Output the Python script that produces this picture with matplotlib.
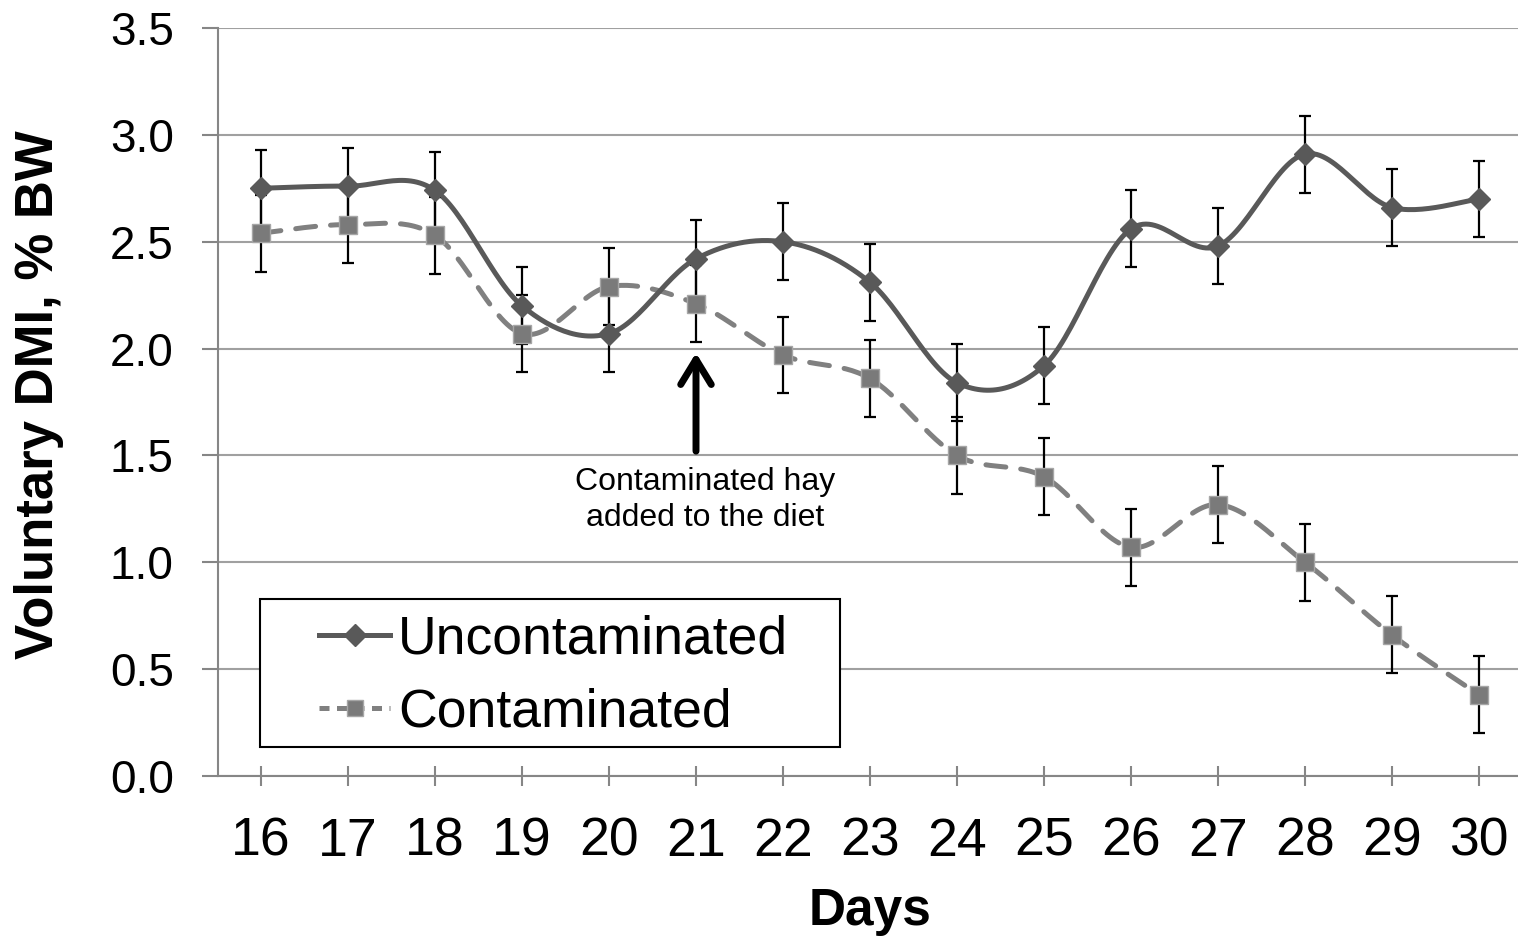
import matplotlib.pyplot as plt
from matplotlib.patches import Rectangle
import numpy as np

plt.rcParams['font.family'] = ['Liberation Sans', 'DejaVu Sans']

days = ['16', '17', '18', '19', '20', '21', '22', '23', '24', '25', '26', '27', '28', '29', '30']
uncontaminated = [2.75, 2.76, 2.74, 2.20, 2.07, 2.42, 2.50, 2.31, 1.84, 1.92, 2.56, 2.48, 2.91, 2.66, 2.70]
contaminated = [2.54, 2.58, 2.53, 2.07, 2.29, 2.21, 1.97, 1.86, 1.50, 1.40, 1.07, 1.27, 1.00, 0.66, 0.38]
unc_err = [0.18, 0.18, 0.18, 0.18, 0.18, 0.18, 0.18, 0.18, 0.18, 0.18, 0.18, 0.18, 0.18, 0.18, 0.18]
con_err = [0.18, 0.18, 0.18, 0.18, 0.18, 0.18, 0.18, 0.18, 0.18, 0.18, 0.18, 0.18, 0.18, 0.18, 0.18]


def smooth(x, y, n=30):
    # bezier curve through the points, like excel's smoothed line
    x = np.asarray(x, float)
    y = np.asarray(y, float)
    px = np.concatenate([[x[0]], x, [x[-1]]])
    py = np.concatenate([[y[0]], y, [y[-1]]])
    xs, ys = [], []
    t = np.linspace(0, 1, n)
    for i in range(1, len(px) - 2):
        p0x, p1x, p2x, p3x = px[i-1], px[i], px[i+1], px[i+2]
        p0y, p1y, p2y, p3y = py[i-1], py[i], py[i+1], py[i+2]
        c1x = p1x + (p2x - p0x) / 6
        c1y = p1y + (p2y - p0y) / 6
        c2x = p2x - (p3x - p1x) / 6
        c2y = p2y - (p3y - p1y) / 6
        bx = (1-t)**3*p1x + 3*(1-t)**2*t*c1x + 3*(1-t)*t**2*c2x + t**3*p2x
        by = (1-t)**3*p1y + 3*(1-t)**2*t*c1y + 3*(1-t)*t**2*c2y + t**3*p2y
        xs.append(bx)
        ys.append(by)
    return np.concatenate(xs), np.concatenate(ys)


fig = plt.figure(figsize=(15.18, 9.39), dpi=100)
ax = fig.add_axes([217.5/1518, 1-776/939, 1305/1518, 748/939])

x = np.arange(len(days))
dark = '#595959'
light = '#808080'

sx, sy = smooth(x, contaminated)
ax.plot(sx, sy, color=light, lw=3.6, dashes=(4, 3), dash_capstyle='round', zorder=3)
sx, sy = smooth(x, uncontaminated)
ax.plot(sx, sy, color=dark, lw=3.6, zorder=4)

ax.errorbar(x, uncontaminated, yerr=unc_err, fmt='none', ecolor='black', elinewidth=1.6,
            capsize=4.5, capthick=1.6, zorder=5)
ax.errorbar(x, contaminated, yerr=con_err, fmt='none', ecolor='black', elinewidth=1.6,
            capsize=4.5, capthick=1.6, zorder=5)

ax.plot(x, contaminated, 's', color='#7a7a7a', mec='#a6a6a6', mew=1, ms=13, zorder=6)
ax.plot(x, uncontaminated, 'D', color=dark, mec=dark, ms=11.5, zorder=7)

# legend: box drawn separately so the padding can match
h1, = ax.plot([], [], color=dark, lw=3.6, marker='D', ms=11.5, mec=dark)
h2, = ax.plot([], [], color=light, lw=3.6, dashes=(2, 1.5), marker='s', ms=12,
              mfc='#7a7a7a', mec='#a6a6a6')
leg = ax.legend([h1, h2], ['Uncontaminated', 'Contaminated'], loc='upper left',
                bbox_to_anchor=(0.0778, 0.216), borderaxespad=0, borderpad=0,
                fontsize=38.5, frameon=False, handlelength=1.33,
                handletextpad=0.15, labelspacing=0.44)
leg.set_zorder(11)
box = Rectangle((0.0326, 0.0388), 0.4444, 0.1979, transform=ax.transAxes,
                facecolor='white', edgecolor='black', lw=1.5, zorder=10)
ax.add_patch(box)

ax.annotate('', xy=(5, 1.98), xytext=(5, 1.52),
            arrowprops=dict(arrowstyle='->,head_length=0.72,head_width=0.44', color='black',
                            lw=5, mutation_scale=25, capstyle='round', joinstyle='round',
                            shrinkA=0, shrinkB=0))
ax.text(5.1, 1.29, 'Contaminated hay\nadded to the diet', ha='center', va='center',
        fontsize=23, linespacing=1.25)

ax.set_xlim(-0.5, len(days) - 0.5)
ax.set_ylim(0, 3.5)
ax.set_yticks(np.arange(0, 3.51, 0.5))
ax.set_yticklabels(['%.1f' % v for v in np.arange(0, 3.51, 0.5)])
ax.set_xticks(x)
ax.set_xticklabels(days)
ax.grid(axis='y', color='#a0a0a0', lw=1.5)
ax.set_axisbelow(True)
for s in ['top', 'right']:
    ax.spines[s].set_visible(False)
for s in ['left', 'bottom']:
    ax.spines[s].set_color('#868686')
    ax.spines[s].set_linewidth(1.5)
ax.tick_params(axis='y', direction='out', length=11.5, width=1.5, color='#868686',
               labelsize=33, pad=20)
ax.tick_params(axis='x', direction='inout', length=15, width=1.5, color='#868686',
               labelsize=38.5, pad=22)

ax.set_xlabel('Days', fontsize=37, fontweight='bold')
ax.set_ylabel('Voluntary DMI, % BW', fontsize=38, fontweight='bold')
ax.xaxis.set_label_coords(0.5, -0.148)
ax.yaxis.set_label_coords(-0.118, 0.51)

fig.savefig('out.png', dpi=100)
